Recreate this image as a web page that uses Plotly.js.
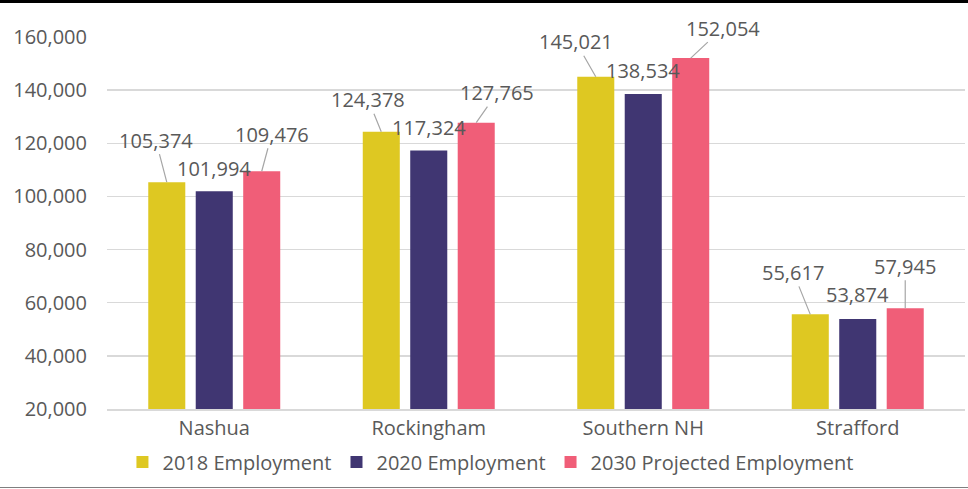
<!DOCTYPE html>
<html>
<head>
<meta charset="utf-8">
<script src="https://cdn.plot.ly/plotly-3.0.1.min.js"></script>
<style>
  html, body { margin: 0; padding: 0; background: #fff; }
  #wrap { position: relative; width: 968px; height: 489px; }
  #chart { width: 968px; height: 489px; }
  .topline { position: absolute; left: 0; top: 0; width: 968px; height: 3px; background: #000; pointer-events: none; }
  .botline { position: absolute; left: 0; top: 487px; width: 968px; height: 1px; background: #7f7f7f; pointer-events: none; }
</style>
</head>
<body>
<div id="wrap">
  <div id="chart"></div>
  <div class="topline"></div>
  <div class="botline"></div>
</div>
<script>
const categories = ["Nashua", "Rockingham", "Southern NH", "Strafford"];
const seriesNames = ["2018 Employment", "2020 Employment", "2030 Projected Employment"];
const emp2018 = [105374, 124378, 145021, 55617];
const emp2020 = [101994, 117324, 138534, 53874];
const emp2030 = [109476, 127765, 152054, 57945];
const yTickVals = [20000, 40000, 60000, 80000, 100000, 120000, 140000, 160000];

const colors = ["#DEC822", "#403672", "#F05E78"];
const allSeries = [emp2018, emp2020, emp2030];

// label offsets in pixels [ax, ay, noLeader]
const labelOffsets = [
  [[-11, -42], [0, -23, true], [10, -37]],
  [[-13, -32], [0, -23, true], [21, -30]],
  [[-20, -35], [0, -24, true], [32, -30]],
  [[-17, -42], [0, -24, true], [0, -42]]
];

const bargap = 0.336;
const bargroupgap = 0.22;
const slot = (1 - bargap) / 3;

const font = "Open Sans, Liberation Sans, sans-serif";
const txtColor = "#595959";
const fs = 20;

const traces = allSeries.map((vals, i) => ({
  type: "bar",
  name: seriesNames[i],
  x: categories,
  y: vals,
  marker: { color: colors[i], line: { width: 0 } },
  hoverinfo: "skip"
}));

const fmt = v => v.toLocaleString("en-US");
const annotations = [];
categories.forEach((c, ci) => {
  allSeries.forEach((vals, si) => {
    const off = labelOffsets[ci][si];
    const xv = ci + (si - 1) * slot;
    if (off[2]) {
      annotations.push({
        x: xv, y: vals[ci], xref: "x", yref: "y",
        text: fmt(vals[ci]), showarrow: false,
        xshift: off[0], yshift: -off[1],
        font: { family: font, size: fs, color: txtColor }
      });
    } else {
      annotations.push({
        x: xv, y: vals[ci], xref: "x", yref: "y",
        text: fmt(vals[ci]), showarrow: true,
        ax: off[0], ay: off[1], axref: "pixel", ayref: "pixel",
        arrowhead: 0, arrowwidth: 1.2, arrowcolor: "#a6a6a6", standoff: 0,
        borderpad: 0,
        font: { family: font, size: fs, color: txtColor }
      });
    }
  });
});

const layout = {
  width: 968, height: 489,
  margin: { l: 107, r: 3, t: 37, b: 80 },
  paper_bgcolor: "#fff", plot_bgcolor: "#fff",
  barmode: "group", bargap: bargap, bargroupgap: bargroupgap,
  font: { family: font, size: fs, color: txtColor },
  xaxis: {
    type: "category", range: [-0.5, 3.5],
    showgrid: false, zeroline: false,
    showline: true, linecolor: "#d9d9d9", linewidth: 1.5,
    ticks: "", tickfont: { family: font, size: fs, color: txtColor },
    fixedrange: true
  },
  yaxis: {
    range: [20000, 160000],
    tickvals: yTickVals, ticktext: yTickVals.map(fmt),
    showgrid: true, gridcolor: "#d9d9d9", gridwidth: 1.5,
    zeroline: false, showline: false, ticks: "",
    ticklabelstandoff: 19,
    tickfont: { family: font, size: fs, color: txtColor },
    fixedrange: true
  },
  showlegend: true,
  legend: {
    orientation: "h", x: 0.018, xanchor: "left", y: -0.09, yanchor: "top",
    font: { family: font, size: fs, color: txtColor },
    traceorder: "normal", itemwidth: 30
  },
  annotations: annotations
};

Plotly.newPlot("chart", traces, layout, { displayModeBar: false, staticPlot: true });
</script>
</body>
</html>
